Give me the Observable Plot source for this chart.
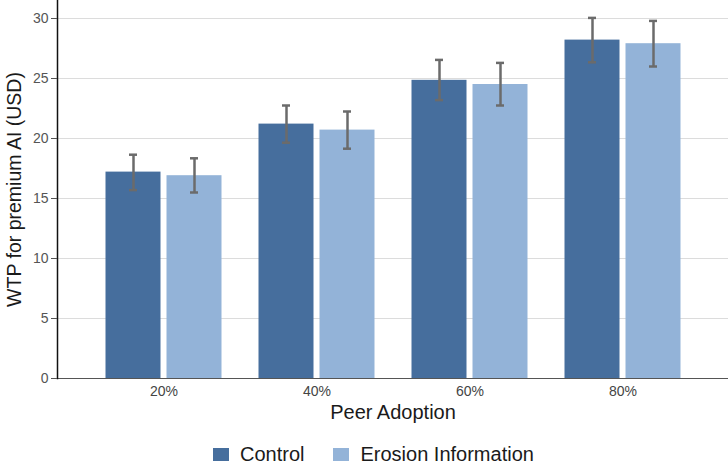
<!DOCTYPE html>
<html><head><meta charset="utf-8">
<script src="https://cdn.jsdelivr.net/npm/d3@7"></script>
<script src="https://cdn.jsdelivr.net/npm/@observablehq/plot@0.6"></script>
<style>
body{margin:0;background:#fff;font-family:"Liberation Sans",Arial,Helvetica,sans-serif;}
#chart svg{display:block;}
[aria-label="y-axis label"] text{font-size:19.5px;fill:#1a1a1a;}
[aria-label="x-axis label"] text{font-size:20px;fill:#1a1a1a;}
.legend{display:flex;align-items:center;margin-left:213px;margin-top:12px;height:28px;font-size:20px;color:#1a1a1a;}
.legend .sw{width:16px;height:13px;display:inline-block;margin-right:11px;}
.legend .item{display:flex;align-items:center;margin-right:29px;}
</style></head><body>
<div id="chart"></div>
<script>
const peer = ["20%", "40%", "60%", "80%"];
const groups = ["Control", "Erosion Information"];
const colors = ["#466e9d", "#93b3d8"];
const control   = [17.2, 21.2, 24.85, 28.2];
const controlLo = [15.7, 19.65, 23.2, 26.35];
const controlHi = [18.65, 22.75, 26.55, 30.05];
const erosion   = [16.9, 20.7, 24.5, 27.9];
const erosionLo = [15.5, 19.15, 22.75, 26.0];
const erosionHi = [18.35, 22.25, 26.3, 29.8];
const yTicks = [0, 5, 10, 15, 20, 25, 30];

const series = [
  {group: groups[0], v: control, lo: controlLo, hi: controlHi, dx: -30.5},
  {group: groups[1], v: erosion, lo: erosionLo, hi: erosionHi, dx: 30.5}
];
const marks = [Plot.gridY(yTicks.slice(1), {stroke: "#dcdcdc", strokeOpacity: 1})];
series.forEach((s, k) => {
  const rows = peer.map((p, i) => ({peer: p, group: s.group, wtp: s.v[i], lo: s.lo[i], hi: s.hi[i]}));
  marks.push(
    Plot.barY(rows, {x: "peer", y: "wtp", fill: colors[k], dx: s.dx}),
    Plot.ruleX(rows, {x: "peer", y1: "lo", y2: "hi", dx: s.dx, stroke: "#6b6b6b", strokeWidth: 2.5}),
    Plot.tickY(rows, {x: "peer", y: "hi", dx: s.dx, insetLeft: 23.5, insetRight: 23.5, stroke: "#6b6b6b", strokeWidth: 2.5}),
    Plot.tickY(rows, {x: "peer", y: "lo", dx: s.dx, insetLeft: 23.5, insetRight: 23.5, stroke: "#6b6b6b", strokeWidth: 2.5})
  );
});
marks.push(
  Plot.ruleY([0], {stroke: "#555", strokeWidth: 1.2, insetLeft: -5}),
  Plot.frame({anchor: "left", stroke: "#111", strokeWidth: 1.5}),
  Plot.axisY(yTicks, {tickSize: 6, tickPadding: 3, stroke: "#555", fill: "#555", fontSize: 14, label: "WTP for premium AI (USD)", labelArrow: false, labelAnchor: "center", labelOffset: 50}),
  Plot.axisX({tickSize: 0, tickPadding: 8, fill: "#444", fontSize: 14, label: "Peer Adoption", labelArrow: false, labelAnchor: "center", labelOffset: 40})
);

const plot = Plot.plot({
  width: 728, height: 428,
  marginLeft: 57, marginRight: 0, marginTop: 0, marginBottom: 50,
  style: {fontFamily: '"Liberation Sans", Arial, sans-serif', fontSize: "14px", background: "#fff", color: "#333"},
  x: {type: "band", domain: peer, paddingInner: 0.643, paddingOuter: 0.503},
  y: {domain: [0, 31.5]},
  marks
});
document.getElementById("chart").appendChild(plot);

const legend = document.createElement("div");
legend.className = "legend";
groups.forEach((g, k) => {
  const item = document.createElement("span");
  item.className = "item";
  const sw = document.createElement("span");
  sw.className = "sw";
  sw.style.background = colors[k];
  item.appendChild(sw);
  item.appendChild(document.createTextNode(g));
  legend.appendChild(item);
});
document.getElementById("chart").appendChild(legend);
</script></body></html>
